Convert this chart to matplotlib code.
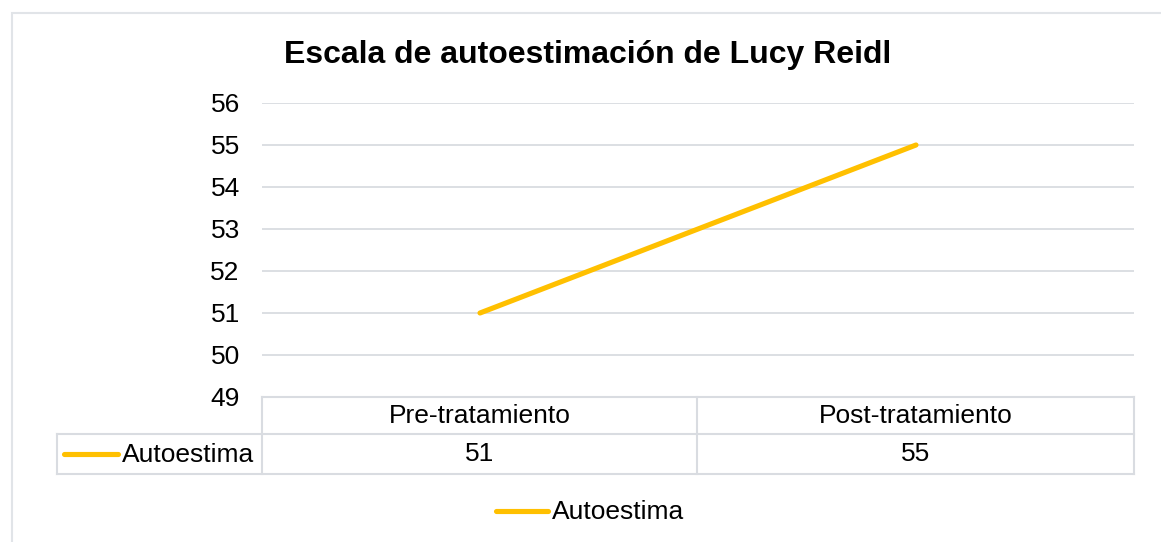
import matplotlib
matplotlib.use('Agg')
import matplotlib.pyplot as plt
from matplotlib.lines import Line2D
from matplotlib.patches import Rectangle

# data
categories = ['Pre-tratamiento', 'Post-tratamiento']
autoestima = [51, 55]
series_name = 'Autoestima'
title = 'Escala de autoestimación de Lucy Reidl'
yticks = [49, 50, 51, 52, 53, 54, 55, 56]

W, H = 1161, 542
line_color = '#FFC000'
grid_color = '#D9DCE1'
plt.rcParams['font.family'] = ['Liberation Sans', 'DejaVu Sans']

def fx(x):
	return x / W

def fy(y):
	return 1 - y / H

fig = plt.figure(figsize=(W/100, H/100), dpi=100)
ax = fig.add_axes([fx(262), fy(397), fx(1134) - fx(262), fy(103) - fy(397)])

xs = list(range(len(categories)))
ax.plot(xs, autoestima, color=line_color, linewidth=3.7, solid_capstyle='round')
ax.set_xlim(-0.5, len(categories) - 0.5)
ax.set_ylim(yticks[0], yticks[-1])
ax.set_yticks(yticks)
ax.set_yticklabels([str(t) for t in yticks], fontsize=19)
ax.set_xticks([])
ax.tick_params(axis='y', length=0, pad=16)
for t in yticks[1:]:
	ax.axhline(t, color=grid_color, linewidth=1.3, zorder=0)
for s in ax.spines.values():
	s.set_visible(False)

# outer chart border
fig.add_artist(Rectangle((fx(12), fy(560)), 2, fy(13) - fy(560), transform=fig.transFigure,
	fill=False, edgecolor='#E1E4E8', linewidth=1.5))

fig.text(fx(588), fy(55), title, fontsize=23, fontweight='bold', ha='center', va='center')

# data table below the axis
def hline(x0, x1, y):
	fig.add_artist(Line2D([fx(x0), fx(x1)], [fy(y), fy(y)], color=grid_color, linewidth=1.5))

def vline(x, y0, y1):
	fig.add_artist(Line2D([fx(x), fx(x)], [fy(y0), fy(y1)], color=grid_color, linewidth=1.5))

hline(262, 1134, 397)
hline(57, 1134, 434)
hline(57, 1134, 474)
vline(57, 434, 474)
vline(262, 397, 474)
vline(697, 397, 474)
vline(1134, 397, 474)

tr = ax.get_xaxis_transform()
row_h = 294.0
for i, cat in enumerate(categories):
	ax.text(i, -19/row_h, cat, transform=tr, ha='center', va='center', fontsize=19, clip_on=False)
	ax.text(i, -57/row_h, str(autoestima[i]), transform=tr, ha='center', va='center', fontsize=19, clip_on=False)

fig.add_artist(Line2D([fx(64), fx(118)], [fy(454), fy(454)], color=line_color, linewidth=3.7, solid_capstyle='round'))
fig.text(fx(122), fy(455), series_name, fontsize=19, ha='left', va='center')

# legend
fig.add_artist(Line2D([fx(496), fx(548)], [fy(511), fy(511)], color=line_color, linewidth=3.7, solid_capstyle='round'))
fig.text(fx(552), fy(512), series_name, fontsize=19, ha='left', va='center')

fig.savefig('out.png', dpi=100)
